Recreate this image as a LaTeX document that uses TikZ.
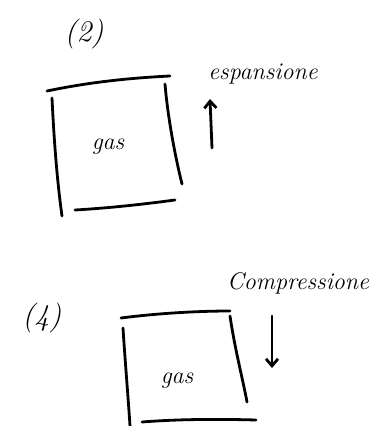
\documentclass[tikz,border=0pt]{standalone}
\usetikzlibrary{arrows.meta}
\begin{document}
\begin{tikzpicture}[x=1pt,y=-1pt,
  stroke/.style={line width=2.8pt,line cap=round,line join=round},
  lbl/.style={font=\itshape\fontsize{30}{32}\selectfont,inner sep=0pt},
  gasl/.style={font=\itshape\fontsize{24}{26}\selectfont,inner sep=0pt},
  small/.style={font=\itshape\fontsize{24}{26}\selectfont,inner sep=0pt}]
\useasboundingbox (0,0) rectangle (370,426);
% ---------- (2) expansion ----------
\node[lbl] (n2) at (84,34) {(2)};
\draw[stroke] (47,91) .. controls (90,82) and (130,78) .. (170,76);
\draw[stroke] (52,98) .. controls (54,140) and (57,180) .. (62,216);
\draw[stroke] (165,84) .. controls (168,120) and (176,160) .. (182,184);
\draw[stroke] (75,210) .. controls (110,208) and (145,204) .. (175,200);
\node[gasl] (gas1) at (108,147) {gas};
\node[small] (esp) at (263,74) {espansione};
\coordinate (a1s) at (212,148);
\coordinate (a1e) at (210,99);
\draw[stroke,-{Straight Barb[length=7pt,width=12pt]}] (a1s) -- (a1e);
% ---------- (4) compression ----------
\node[lbl] (n4) at (42,318) {(4)};
\draw[stroke] (121,318) .. controls (160,313) and (200,311) .. (230,311);
\draw[stroke] (123,328) .. controls (125,360) and (128,395) .. (130,426);
\draw[stroke] (230,316) .. controls (235,350) and (243,380) .. (247,402);
\draw[stroke] (142,422) .. controls (180,419) and (220,419) .. (256,420);
\node[gasl] (gas2) at (177,381) {gas};
\node[small] (comp) at (298,283) {Compressione};
\coordinate (a2s) at (272,316);
\coordinate (a2e) at (272,368);
\draw[stroke,-{Straight Barb[length=7pt,width=12pt]}] (a2s) -- (a2e);
\end{tikzpicture}
\end{document}
